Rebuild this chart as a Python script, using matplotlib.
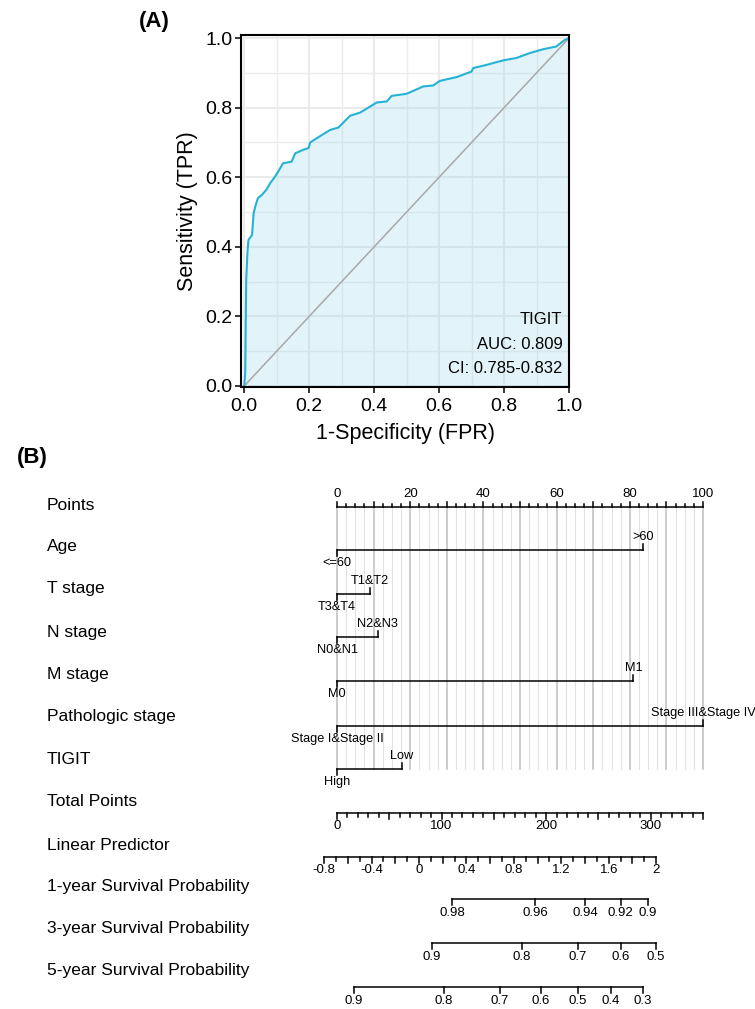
import numpy as np
import matplotlib.pyplot as plt
from matplotlib.transforms import blended_transform_factory

plt.rcParams['font.family'] = ['Liberation Sans', 'DejaVu Sans']

# ---- panel A: ROC curve
fpr = [0.0, 0.003, 0.006, 0.010, 0.013, 0.024, 0.029, 0.034, 0.042, 0.054, 0.068,
       0.080, 0.095, 0.105, 0.119, 0.146, 0.157, 0.182, 0.198, 0.203, 0.223, 0.264,
       0.290, 0.326, 0.357, 0.408, 0.439, 0.454, 0.500, 0.551, 0.582, 0.602, 0.654,
       0.700, 0.705, 0.746, 0.797, 0.838, 0.879, 0.920, 0.961, 0.987, 1.0]
tpr = [0.0, 0.036, 0.305, 0.386, 0.420, 0.434, 0.497, 0.516, 0.540, 0.549, 0.564,
       0.583, 0.602, 0.617, 0.640, 0.645, 0.669, 0.679, 0.684, 0.700, 0.712, 0.736,
       0.743, 0.777, 0.786, 0.815, 0.818, 0.834, 0.840, 0.861, 0.864, 0.877, 0.888,
       0.904, 0.914, 0.923, 0.936, 0.943, 0.957, 0.968, 0.976, 0.995, 1.0]
roc_lines = ['TIGIT', 'AUC: 0.809', 'CI: 0.785-0.832']

# ---- panel B: nomogram
row_names = ['Points', 'Age', 'T stage', 'N stage', 'M stage', 'Pathologic stage', 'TIGIT',
             'Total Points', 'Linear Predictor', '1-year Survival Probability',
             '3-year Survival Probability', '5-year Survival Probability']

age_levels = ['<=60', '>60']
age_points = [0, 83.6]
t_levels = ['T3&T4', 'T1&T2']
t_points = [0, 8.9]
n_levels = ['N0&N1', 'N2&N3']
n_points = [0, 11.1]
m_levels = ['M0', 'M1']
m_points = [0, 81.0]
path_levels = ['Stage I&Stage II', 'Stage III&Stage IV']
path_points = [0, 100]
tigit_levels = ['High', 'Low']
tigit_points = [0, 17.7]

total_max = 350
lp_labels = ['-0.8', '-0.4', '0', '0.4', '0.8', '1.2', '1.6', '2']
lp_values = [-0.8, -0.4, 0, 0.4, 0.8, 1.2, 1.6, 2.0]

surv1_labels = ['0.98', '0.96', '0.94', '0.92', '0.9']
surv1_lp = [0.28, 0.98, 1.40, 1.70, 1.93]
surv3_labels = ['0.9', '0.8', '0.7', '0.6', '0.5']
surv3_lp = [0.11, 0.87, 1.34, 1.70, 2.00]
surv5_labels = ['0.9', '0.8', '0.7', '0.6', '0.5', '0.4', '0.3']
surv5_lp = [-0.55, 0.21, 0.68, 1.03, 1.34, 1.62, 1.89]

# linear predictor -> points scale
lp_zero = 22.4
lp_unit = 32.4


def lp2pt(v):
    return lp_zero + lp_unit * np.asarray(v)


fig = plt.figure(figsize=(7.55, 10.09), dpi=100)

# ---------------- ROC
ax1 = fig.add_axes([241 / 755, 1 - 387 / 1009, 328 / 755, 352 / 1009])
ax1.set_xlim(-0.01, 1.0)
ax1.set_ylim(-0.003, 1.009)
ax1.set_xticks(np.arange(0, 1.01, 0.2))
ax1.set_yticks(np.arange(0, 1.01, 0.2))
ax1.set_xticks(np.arange(0.1, 1.0, 0.2), minor=True)
ax1.set_yticks(np.arange(0.1, 1.0, 0.2), minor=True)
ax1.xaxis.set_major_formatter(plt.FormatStrFormatter('%.1f'))
ax1.yaxis.set_major_formatter(plt.FormatStrFormatter('%.1f'))
ax1.grid(which='major', color='#EBEBEB', lw=1.5)
ax1.grid(which='minor', color='#EDEDED', lw=1.0)
ax1.set_axisbelow(True)
ax1.tick_params(which='minor', length=0)
ax1.tick_params(which='major', length=4, width=1.1, labelsize=14, pad=2, colors='black')
ax1.tick_params(axis='x', pad=4)
for s in ax1.spines.values():
    s.set_linewidth(1.5)
    s.set_color('black')

ax1.fill_between(fpr, tpr, 0, color='#8FD3E8', alpha=0.25, lw=0)
ax1.plot([0, 1], [0, 1], color='#A8A8A8', lw=1.1)
ax1.plot(fpr, tpr, color='#25B2D5', lw=1.5)
for i, t in enumerate(roc_lines):
    ax1.text(0.98, 0.19 - i * 0.07, t, ha='right', va='center', fontsize=12)
ax1.set_xlabel('1-Specificity (FPR)', fontsize=15.5, labelpad=6)
ax1.set_ylabel('Sensitivity (TPR)', fontsize=15.5, labelpad=5)

fig.text(154 / 755, 1 - 22 / 1009, '(A)', ha='center', va='center', fontsize=16, fontweight='bold')
fig.text(32 / 755, 1 - 458 / 1009, '(B)', ha='center', va='center', fontsize=16, fontweight='bold')

# ---------------- nomogram (y in figure pixels from top, x in points)
ax2 = fig.add_axes([0, 0, 1, 1])
ax2.patch.set_visible(False)
ax2.set_xlim(-337 / 3.66, (755 - 337) / 3.66)
ax2.set_ylim(1009, 0)
ax2.axis('off')
tr = blended_transform_factory(ax2.transAxes, ax2.transData)

label_y = [506, 547, 589, 632, 674, 717, 759, 802, 845, 886, 928, 970]
for name, y in zip(row_names, label_y):
    ax2.text(47 / 755, y, name, transform=tr, ha='left', va='center', fontsize=12.5)

lw = 1.1
small = 9.2

# grid lines behind points rows
y_top, y_bot = 507, 769
for p in np.arange(0, 100.1, 2.5):
    major = abs(p % 10) < 1e-9
    ax2.plot([p, p], [y_top, y_bot], color='#C4C4C4' if major else '#E2E2E2',
             lw=1.2 if major else 0.8, zorder=0)

# Points axis (ticks up, labels above)
y = 507
ax2.plot([0, 100], [y, y], color='black', lw=lw)
for p in np.arange(0, 100.1, 2.5):
    ln = 5 if abs(p % 10) < 1e-9 else 3
    ax2.plot([p, p], [y, y - ln], color='black', lw=lw)
for p in range(0, 101, 20):
    ax2.text(p, y - 13, str(p), ha='center', va='center', fontsize=9.5)

# categorical rows
cat_rows = [(550, age_levels, age_points), (594, t_levels, t_points),
            (637, n_levels, n_points), (681, m_levels, m_points),
            (726, path_levels, path_points), (769, tigit_levels, tigit_points)]
for y, levels, pts in cat_rows:
    ax2.plot(pts, [y, y], color='black', lw=lw)
    ax2.plot([pts[0], pts[0]], [y, y + 6], color='black', lw=lw)
    ax2.plot([pts[1], pts[1]], [y, y - 6], color='black', lw=lw)
    ax2.text(pts[0], y + 13, levels[0], ha='center', va='center', fontsize=small)
    ax2.text(pts[1], y - 13, levels[1], ha='center', va='center', fontsize=small)

# Total points (ticks down)
y = 813
ax2.plot([0, 100], [y, y], color='black', lw=lw)
for t in range(0, total_max + 1, 10):
    ln = 6 if t % 50 == 0 else 3.5
    ax2.plot([t * 100 / total_max] * 2, [y, y + ln], color='black', lw=lw)
for t in range(0, 301, 100):
    ax2.text(t * 100 / total_max, y + 13, str(t), ha='center', va='center', fontsize=9.5)

# Linear predictor
y = 857
ax2.plot(lp2pt([-0.8, 2.0]), [y, y], color='black', lw=lw)
for k in range(-8, 21):
    ln = 6 if k % 2 == 0 else 3.5
    ax2.plot([lp2pt(k / 10)] * 2, [y, y + ln], color='black', lw=lw)
for v, s in zip(lp_values, lp_labels):
    ax2.text(lp2pt(v), y + 13, s, ha='center', va='center', fontsize=9.5)

# survival probability scales
for y, labs, lps in [(899, surv1_labels, surv1_lp), (943, surv3_labels, surv3_lp),
                     (987, surv5_labels, surv5_lp)]:
    xs = lp2pt(lps)
    ax2.plot([xs[0], xs[-1]], [y, y], color='black', lw=lw)
    for x, s in zip(xs, labs):
        ax2.plot([x, x], [y, y + 6], color='black', lw=lw)
        ax2.text(x, y + 14, s, ha='center', va='center', fontsize=9.5)

fig.savefig('out.png', dpi=100)
